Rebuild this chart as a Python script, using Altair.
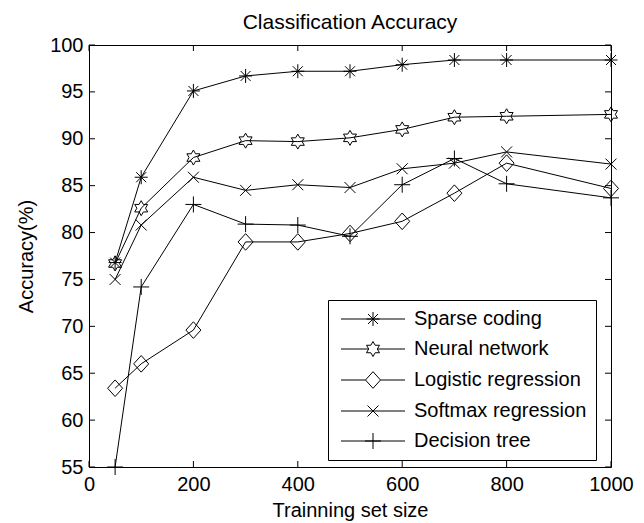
import altair as alt
import pandas as pd

# ---- data ----
train_sizes = [50, 100, 200, 300, 400, 500, 600, 700, 800, 1000]
series_names = ["Sparse coding", "Neural network", "Logistic regression",
                "Softmax regression", "Decision tree"]
sparse_coding = [76.8, 85.9, 95.1, 96.7, 97.2, 97.2, 97.9, 98.4, 98.4, 98.4]
neural_network = [76.7, 82.6, 88.0, 89.8, 89.7, 90.1, 91.0, 92.3, 92.4, 92.6]
logistic_regression = [63.4, 66.0, 69.6, 79.0, 79.0, 79.9, 81.2, 84.2, 87.4, 84.7]
softmax_regression = [75.0, 80.8, 85.9, 84.5, 85.1, 84.8, 86.8, 87.4, 88.6, 87.3]
decision_tree = [55.0, 74.2, 83.0, 80.9, 80.8, 79.6, 85.1, 87.9, 85.2, 83.7]
x_ticks = [0, 200, 400, 600, 800, 1000]
y_ticks = [55, 60, 65, 70, 75, 80, 85, 90, 95, 100]

# ---- marker shapes (MATLAB-like: *, hexagram, diamond, x, +) ----
star = "M0,-7V7M-6.5,0H6.5M-5,-5L5,5M-5,5L5,-5"
hexa = ("M0,-7.5L2.165,-3.75L6.5,-3.75L4.33,0L6.5,3.75L2.165,3.75L0,7.5"
        "L-2.165,3.75L-6.5,3.75L-4.33,0L-6.5,-3.75L-2.165,-3.75Z")
diamond = "M0,-8.3L7.5,0L0,8.3L-7.5,0Z"
cross = "M-5.5,-5.5L5.5,5.5M-5.5,5.5L5.5,-5.5"
plus = "M-8,0H8M0,-8V8"
marker_paths = [star, hexa, diamond, cross, plus]
legend_paths = [
    "M-32,0H32" + star,
    "M-32,0H-4.33M4.33,0H32" + hexa,
    "M-32,0H-7.5M7.5,0H32" + diamond,
    "M-32,0H32" + cross,
    "M-32,0H32" + plus,
]

rows = []
for name, vals in zip(series_names, [sparse_coding, neural_network, logistic_regression,
                                     softmax_regression, decision_tree]):
    for s, v in zip(train_sizes, vals):
        rows.append({"size": s, "acc": v, "series": name})
df = pd.DataFrame(rows)
xt = pd.DataFrame({"size": x_ticks})
yt = pd.DataFrame({"acc": y_ticks})

W, H = 522, 422
FONT = "Liberation Sans"

x_scale = alt.Scale(domain=[0, 1000], nice=False, zero=False)
y_scale = alt.Scale(domain=[55, 100], nice=False, zero=False)
x_axis = alt.Axis(values=x_ticks, format="d", ticks=False, domain=False, grid=False,
                  labelFontSize=20, labelPadding=7, labelFlush=False, labelOverlap=False,
                  labelColor="black", title="Trainning set size", titleFontSize=20,
                  titleFontWeight="normal", titleColor="black", titlePadding=6)
y_axis = alt.Axis(values=y_ticks, format="d", ticks=False, domain=False, grid=False,
                  labelFontSize=20, labelPadding=6, labelFlush=False, labelOverlap=False,
                  labelColor="black", title="Accuracy(%)", titleFontSize=20,
                  titleFontWeight="normal", titleColor="black", titlePadding=13)

X = alt.X("size:Q", scale=x_scale, axis=x_axis)
Y = alt.Y("acc:Q", scale=y_scale, axis=y_axis)

legend_layer = alt.Chart(df).mark_point(size=4, opacity=0, filled=False, stroke="black").encode(
    x=X, y=Y,
    shape=alt.Shape("series:N", scale=alt.Scale(domain=series_names, range=legend_paths),
                    legend=alt.Legend(title=None, orient="none", legendX=239, legendY=255,
                                      padding=9, rowPadding=10, symbolOffset=26, labelOffset=31,
                                      labelFontSize=20, labelFont=FONT, labelColor="black",
                                      labelLimit=400, strokeColor="black", fillColor="white",
                                      symbolSize=4, symbolStrokeWidth=1,
                                      symbolStrokeColor="black", symbolOpacity=1)),
)

lines = alt.Chart(df).mark_line(color="black", strokeWidth=1).encode(
    x=X, y=Y, detail="series:N")

points = alt.Chart(df).mark_point(size=4, filled=False, stroke="black", strokeWidth=1,
                                  opacity=1).encode(
    x=X, y=Y,
    shape=alt.Shape("series:N", scale=alt.Scale(domain=series_names, range=marker_paths),
                    legend=None),
)

TL = 6
tick_bottom = alt.Chart(xt).mark_rule(color="black", strokeWidth=1).encode(
    x=X, y=alt.value(H), y2=alt.value(H - TL))
tick_top = alt.Chart(xt).mark_rule(color="black", strokeWidth=1).encode(
    x=X, y=alt.value(0), y2=alt.value(TL))
tick_left = alt.Chart(yt).mark_rule(color="black", strokeWidth=1).encode(
    y=Y, x=alt.value(0), x2=alt.value(TL))
tick_right = alt.Chart(yt).mark_rule(color="black", strokeWidth=1).encode(
    y=Y, x=alt.value(W), x2=alt.value(W - TL))

chart = alt.layer(legend_layer, lines, points, tick_bottom, tick_top, tick_left, tick_right).resolve_scale(
    shape="independent"
).properties(
    width=W, height=H,
    autosize=alt.AutoSizeParams(type="none"),
    padding={"left": 89, "top": 45, "right": 33, "bottom": 56},
    title=alt.Title("Classification Accuracy", fontSize=21, fontWeight="normal",
                    baseline="alphabetic", offset=7, dy=22, anchor="middle", color="black",
                    font=FONT),
).configure(
    font=FONT, background="white"
).configure_view(
    stroke="black", strokeWidth=1
)

chart.save("out.html", embed_options={"renderer": "svg", "actions": False})
